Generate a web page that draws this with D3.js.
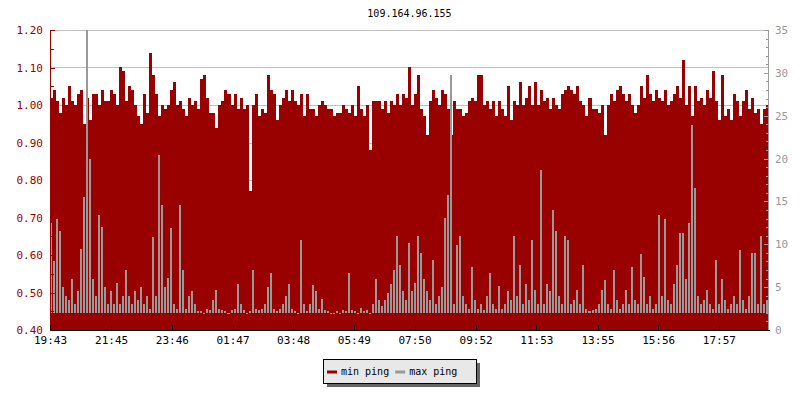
<!DOCTYPE html>
<html>
<head>
<meta charset="utf-8">
<script src="https://cdn.jsdelivr.net/npm/d3@7"></script>
<style>
  body { margin: 0; background: #fff; }
  svg { display: block; font-family: "DejaVu Sans Mono", monospace; }
</style>
</head>
<body>
<svg id="chart" width="800" height="400"></svg>
<script>
'use strict';

// chart data (one sample every 6 minutes)
var title = '109.164.96.155';
var sampleStep = 6; // minutes
var xTickMinutes = [0, 122, 243, 364, 485, 606, 727, 849, 970, 1092, 1213, 1334];
var xTickLabels = ['19:43', '21:45', '23:46', '01:47', '03:48', '05:49', '07:50', '09:52', '11:53', '13:55', '15:56', '17:57'];
var seriesNames = ['min ping', 'max ping'];
var maxPingFloor = 1.95; // lowest level of the max ping bars

var minPing = [
  1.02, 1.04, 1.01, 0.98, 1.02, 1.00, 1.05, 1.01, 1.00, 1.03,
  1.04, 0.95, 1.02, 0.96, 1.03, 1.03, 1.00, 1.04, 1.01, 1.01,
  1.04, 1.03, 1.00, 1.10, 1.09, 1.01, 1.05, 1.04, 1.00, 0.97,
  0.95, 1.03, 0.98, 1.14, 1.08, 1.03, 0.97, 1.00, 0.99, 1.00,
  1.04, 1.06, 1.00, 1.01, 0.99, 0.97, 1.02, 1.00, 1.01, 0.99,
  1.07, 1.08, 1.02, 0.98, 0.98, 0.94, 1.00, 1.01, 1.04, 1.03,
  1.00, 1.03, 0.99, 1.02, 0.99, 1.00, 0.77, 1.00, 1.03, 0.97,
  0.99, 0.98, 1.08, 1.04, 1.03, 0.96, 1.00, 1.02, 1.04, 1.01,
  1.04, 1.01, 1.00, 1.03, 0.97, 1.03, 0.99, 0.99, 0.97, 1.00,
  1.01, 1.00, 0.99, 0.99, 0.97, 0.98, 0.98, 1.00, 0.99, 0.98,
  1.00, 0.97, 1.05, 0.99, 0.97, 1.00, 0.88, 1.01, 1.01, 1.01,
  0.99, 1.01, 0.98, 1.01, 1.00, 1.03, 1.00, 1.03, 1.02, 1.10,
  1.00, 1.03, 1.08, 0.99, 0.97, 0.92, 1.01, 1.04, 1.02, 1.00,
  1.04, 1.03, 0.99, 0.92, 1.01, 0.99, 0.99, 0.97, 0.98, 1.01,
  1.02, 1.01, 1.08, 1.08, 1.00, 1.01, 0.99, 1.01, 0.97, 1.01,
  0.99, 0.97, 1.05, 0.96, 1.01, 1.00, 1.06, 1.00, 1.02, 1.05,
  1.00, 1.06, 1.00, 1.04, 1.01, 1.02, 0.99, 1.02, 1.00, 0.99,
  1.03, 1.04, 1.05, 1.04, 1.03, 1.05, 1.01, 1.00, 0.97, 1.02,
  0.99, 0.99, 0.98, 1.00, 0.92, 1.00, 1.03, 1.01, 1.04, 1.05,
  1.03, 1.01, 1.03, 1.00, 0.98, 1.00, 1.05, 1.02, 1.08, 1.03,
  1.01, 1.04, 1.02, 1.01, 1.04, 1.00, 1.01, 1.03, 1.05, 1.02,
  1.12, 1.00, 1.05, 0.97, 1.05, 1.01, 1.02, 1.00, 1.04, 1.02,
  1.09, 1.01, 0.96, 1.08, 0.97, 0.99, 0.96, 1.03, 1.01, 0.97,
  1.01, 1.04, 0.99, 1.02, 0.98, 0.99, 0.95, 0.99, 1.00, 1.01
];

var maxPing = [
  12.5, 8, 13, 11.5, 5, 4, 3.5, 6, 3, 4.5,
  9.5, 15.5, 35, 20, 6, 4, 13.4, 12, 5, 3,
  4.5, 3, 5.5, 3, 4, 7, 4, 3, 4.5, 3.5,
  5, 3, 4, 2.5, 10.8, 4, 20.4, 14.6, 5, 6.1,
  11.9, 3, 2.5, 14.6, 7, 2.5, 4, 4.5, 3, 2.2,
  2.2, 2, 2.5, 2.3, 3.5, 4.7, 2.5, 2.3, 2.2, 2,
  2.3, 2.5, 5.4, 3, 2.3, 2, 2.2, 7, 2.5, 2.3,
  2.5, 3, 5, 6.6, 2.5, 2.2, 2.5, 3, 4, 5.4,
  2.5, 2.2, 2, 10.5, 3, 2.2, 3, 5.3, 4.5, 2.5,
  3.6, 2.3, 2.2, 2, 2, 2.2, 2, 2.3, 2.2, 6.6,
  2.3, 2.2, 2, 2.6, 2.2, 2.3, 2, 3, 6, 3.5,
  2.8, 3.5, 4.3, 5.4, 7, 11, 7.6, 4.5, 3.5, 10.1,
  4.5, 5.5, 11, 9, 6, 4.5, 3.5, 8.2, 3, 4,
  5, 13.1, 15.8, 29.8, 3, 9.9, 11, 4, 3, 2.5,
  7.4, 3.5, 2.5, 3, 2.3, 4, 6.6, 3, 2.5, 5.1,
  2.5, 3, 4.5, 3.5, 11, 4, 7.6, 3, 5.4, 3.5,
  10.5, 4.7, 3, 18.7, 3, 5.4, 4.5, 14, 11.5, 4,
  3, 11, 10.5, 3, 3.5, 4.7, 3, 7.6, 2.5, 2.2,
  2.3, 2.5, 3, 4.7, 5.8, 3, 2.5, 7, 3.5, 2.5,
  3, 4.7, 3, 7.4, 3.5, 3, 8.9, 6.2, 3, 4,
  2.5, 3, 13.4, 4, 13, 3.5, 3, 5.4, 7.6, 11.3,
  11.3, 6, 12.5, 23.9, 16.6, 4, 3, 3.5, 4.7, 3,
  2.5, 8.2, 3, 6, 3.5, 2.5, 3, 4, 3, 9.3,
  3.5, 2.5, 4, 9, 9, 3, 11, 3, 3.5, 3
];

var red = '#990000';
var grey = '#999999';

var svg = d3.select('#chart');
var margin = { left: 50, right: 31, top: 30, bottom: 70 };
var width = 800 - margin.left - margin.right;
var height = 400 - margin.top - margin.bottom;

var x = d3.scaleLinear().domain([0, 1434]).range([0, width]);
var yLeft = d3.scaleLinear().domain([0.4, 1.2]).range([height, 0]);
var yRight = d3.scaleLinear().domain([0, 35]).range([height, 0]);

var g = svg.append('g').attr('transform', 'translate(' + margin.left + ',' + margin.top + ')');

svg.append('defs').append('clipPath').attr('id', 'plotClip')
  .append('rect').attr('width', width).attr('height', height);

// title
svg.append('text')
  .attr('x', margin.left + width / 2)
  .attr('y', 17)
  .attr('text-anchor', 'middle')
  .attr('fill', '#000')
  .style('font-size', '10px')
  .text(title);

// grid lines behind the data
g.append('g')
  .selectAll('line')
  .data(d3.range(0.4, 1.21, 0.1))
  .enter().append('line')
  .attr('x1', 0).attr('x2', width)
  .attr('y1', function (d) { return Math.round(yLeft(d)) + 0.5; })
  .attr('y2', function (d) { return Math.round(yLeft(d)) + 0.5; })
  .attr('stroke', '#c0c0c0');

var plot = g.append('g').attr('clip-path', 'url(#plotClip)');

function x0(i) { return Math.round(x(i * sampleStep)); }
function x1(i) { return Math.round(x((i + 1) * sampleStep)); }

// min ping as step bars
plot.append('g')
  .selectAll('rect')
  .data(minPing)
  .enter().append('rect')
  .attr('x', function (d, i) { return x0(i); })
  .attr('width', function (d, i) { return x1(i) - x0(i); })
  .attr('y', function (d) { return Math.round(yLeft(d)); })
  .attr('height', function (d) { return height - Math.round(yLeft(d)); })
  .attr('fill', red)
  .attr('shape-rendering', 'crispEdges');

// max ping as thin bars on the right axis
plot.append('g')
  .selectAll('rect')
  .data(maxPing)
  .enter().append('rect')
  .attr('x', function (d, i) { return x0(i); })
  .attr('width', function (d, i) { return Math.max(1, x1(i) - x0(i) - 1); })
  .attr('y', function (d) { return Math.round(yRight(d)); })
  .attr('height', function (d) { return Math.max(1, Math.round(yRight(maxPingFloor)) - Math.round(yRight(d))); })
  .attr('fill', grey)
  .attr('shape-rendering', 'crispEdges');

// left axis
var leftMinor = g.append('g')
  .call(d3.axisLeft(yLeft).tickValues(d3.range(0.45, 1.2, 0.1)).tickSize(-4).tickFormat(''));
var leftAxis = g.append('g')
  .call(d3.axisLeft(yLeft).tickValues(d3.range(0.4, 1.21, 0.1)).tickSize(-5).tickSizeOuter(0)
    .tickPadding(7).tickFormat(d3.format('.2f')));
[leftMinor, leftAxis].forEach(function (a) {
  a.selectAll('line, path').attr('stroke', red).attr('shape-rendering', 'crispEdges');
  a.select('.domain').remove();
});
leftAxis.selectAll('text').attr('fill', red).style('font-size', '11px').style('font-family', '"DejaVu Sans Mono", monospace');
g.append('line').attr('x1', 0.5).attr('x2', 0.5).attr('y1', 0).attr('y2', height).attr('stroke', red);

// right axis
var rightG = g.append('g').attr('transform', 'translate(' + width + ',0)');
var rightMinor = rightG.append('g')
  .call(d3.axisRight(yRight).tickValues(d3.range(0, 36, 1)).tickSize(-3).tickFormat(''));
var rightAxis = rightG.append('g')
  .call(d3.axisRight(yRight).tickValues(d3.range(0, 36, 5)).tickSize(-5).tickSizeOuter(0).tickPadding(6));
[rightMinor, rightAxis].forEach(function (a) {
  a.selectAll('line, path').attr('stroke', grey).attr('shape-rendering', 'crispEdges');
  a.select('.domain').remove();
});
rightAxis.selectAll('text').attr('fill', grey).style('font-size', '11px').style('font-family', '"DejaVu Sans Mono", monospace');
rightG.append('line').attr('x1', -0.5).attr('x2', -0.5).attr('y1', 0).attr('y2', height).attr('stroke', grey);

// bottom axis
var bottomAxis = g.append('g')
  .attr('transform', 'translate(0,' + height + ')')
  .call(d3.axisBottom(x).tickValues(xTickMinutes).tickSize(-5).tickSizeOuter(0).tickPadding(6)
    .tickFormat(function (d, i) { return xTickLabels[i]; }));
bottomAxis.selectAll('line, path').attr('stroke', '#000').attr('shape-rendering', 'crispEdges');
bottomAxis.selectAll('text').attr('fill', '#000').style('font-size', '11px').style('font-family', '"DejaVu Sans Mono", monospace');

// legend
var legend = svg.append('g').attr('transform', 'translate(323,359)');
legend.append('rect').attr('x', 4).attr('y', 4).attr('width', 153).attr('height', 24).attr('fill', '#666');
legend.append('rect').attr('x', 0.5).attr('y', 0.5).attr('width', 153).attr('height', 24)
  .attr('fill', '#e8e8e8').attr('stroke', '#000');

var legendColors = [red, grey];
var lx = 4;
seriesNames.forEach(function (name, i) {
  legend.append('line')
    .attr('x1', lx).attr('x2', lx + 10)
    .attr('y1', 13).attr('y2', 13)
    .attr('stroke', legendColors[i]).attr('stroke-width', 3);
  var t = legend.append('text')
    .attr('x', lx + 14).attr('y', 16)
    .attr('fill', '#000')
    .style('font-size', '10px')
    .text(name);
  lx += 14 + t.node().getComputedTextLength() + 6;
});
</script>
</body>
</html>
